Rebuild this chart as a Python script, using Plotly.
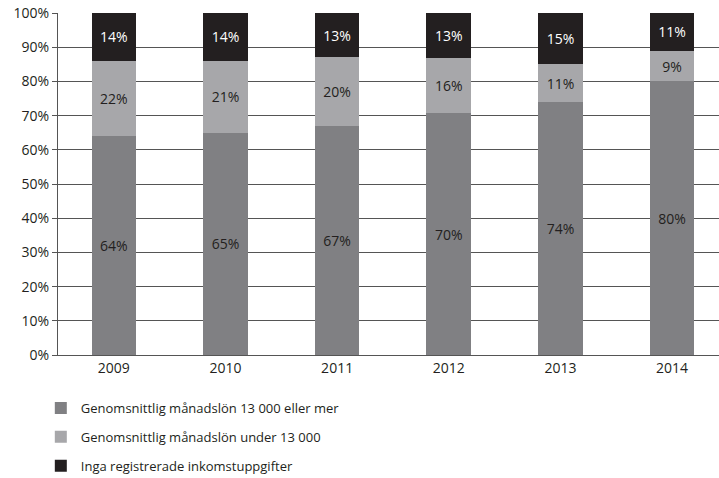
import plotly.graph_objects as go

years = ["2009", "2010", "2011", "2012", "2013", "2014"]
over_13000 = [64, 65, 67, 70, 74, 80]
under_13000 = [22, 21, 20, 16, 11, 9]
no_income = [14, 14, 13, 13, 15, 11]

names = [
    "Genomsnittlig månadslön 13 000 eller mer",
    "Genomsnittlig månadslön under 13 000",
    "Inga registrerade inkomstuppgifter",
]
colors = ["#808083", "#a7a7aa", "#231f20"]
text_colors = ["#231f20", "#231f20", "#ffffff"]
series = [over_13000, under_13000, no_income]

FONT = "Open Sans"
FS = 14
fig = go.Figure()
for i, (name, vals) in enumerate(zip(names, series)):
    fig.add_trace(go.Bar(
        x=years, y=vals, name=name,
        marker=dict(color=colors[i], line=dict(width=0)),
        width=0.4,
        text=[f"{v}%" for v in vals],
        textposition="inside",
        insidetextanchor="middle",
        textangle=0,
        textfont=dict(family=FONT, size=FS, color=text_colors[i]),
        legendgroup=f"g{i}",
    ))

fig.update_layout(
    width=719, height=478,
    barmode="stack", barnorm="percent",
    plot_bgcolor="white", paper_bgcolor="white",
    margin=dict(l=58, r=0, t=13, b=123, autoexpand=False),
    font=dict(family=FONT, size=FS, color="#231f20"),
    legend=dict(
        orientation="v", x=-0.026, xanchor="left", y=-0.111, yanchor="top",
        traceorder="grouped", tracegroupgap=9,
        font=dict(family=FONT, size=13, color="#231f20"),
        itemwidth=30,
    ),
    showlegend=True,
)
fig.update_xaxes(
    type="category", range=[-0.5, 5.42], automargin=False,
    showline=True, linecolor="#555555", linewidth=1,
    ticks="", tickfont=dict(family=FONT, size=FS, color="#231f20"),
    showgrid=False,
)
fig.update_yaxes(
    range=[0, 100], dtick=10, ticksuffix="%", automargin=False,
    showline=True, linecolor="#555555", linewidth=1,
    ticks="outside", ticklen=5, tickcolor="#555555",
    showgrid=True, gridcolor="#555555", gridwidth=1,
    tickfont=dict(family=FONT, size=FS, color="#231f20"),
    zeroline=False,
)

fig.write_html(
    "out.html",
    config={"displayModeBar": False},
    post_script="document.body.style.margin='0';document.body.style.overflow='hidden';",
)
